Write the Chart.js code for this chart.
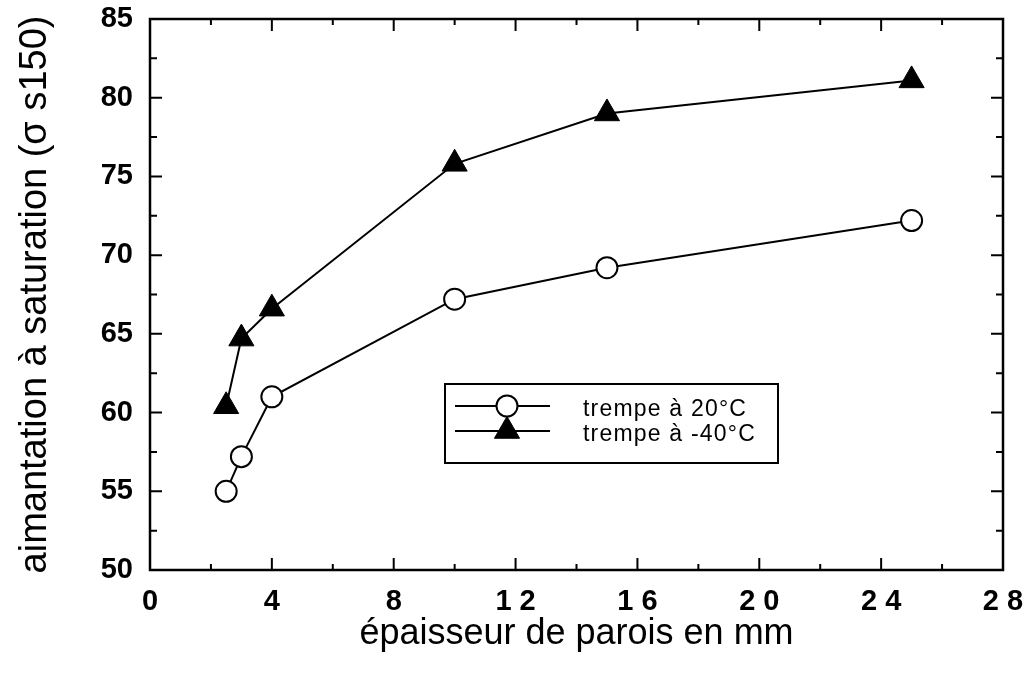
<!DOCTYPE html>
<html>
<head>
<meta charset="utf-8">
<script src="https://cdn.jsdelivr.net/npm/chart.js@4.4.1/dist/chart.umd.min.js"></script>
<style>
html,body{margin:0;padding:0;background:#fff;}
#wrap{width:1034px;height:676px;}
</style>
</head>
<body>
<div id="wrap"><canvas id="c" width="1034" height="676"></canvas></div>
<script>
// ---- data ----
const thickness = [2.5, 3, 4, 10, 15, 25];
const sat20 = [55.0, 57.2, 61.0, 67.2, 69.2, 72.2];
const satM40 = [60.4, 64.7, 66.6, 75.8, 79.0, 81.1];
const seriesLabels = ['trempe à 20°C', 'trempe à -40°C'];
const xTickLabels = {0:'0', 4:'4', 8:'8', 12:'1 2', 16:'1 6', 20:'2 0', 24:'2 4', 28:'2 8'};
const yTickLabels = {50:'50', 55:'55', 60:'60', 65:'65', 70:'70', 75:'75', 80:'80', 85:'85'};
const xTitle = 'épaisseur de parois en mm';
const yTitle = 'aimantation à saturation (σ s150)';

const FONT = "'Liberation Sans', Arial, Helvetica, sans-serif";

const framePlugin = {
  id: 'frameTicks',
  afterDatasetsDraw(chart) {
    const {ctx, chartArea: a, scales} = chart;
    ctx.save();
    ctx.strokeStyle = '#000';
    ctx.lineWidth = 2;
    ctx.beginPath();
    scales.x.ticks.forEach(t => {
      const px = scales.x.getPixelForValue(t.value);
      const len = (t.value % 4 === 0) ? 12 : 6;
      ctx.moveTo(px, a.bottom); ctx.lineTo(px, a.bottom - len);
      ctx.moveTo(px, a.top); ctx.lineTo(px, a.top + len);
    });
    scales.y.ticks.forEach(t => {
      const py = scales.y.getPixelForValue(t.value);
      const len = (t.value % 5 === 0) ? 12 : 7;
      ctx.moveTo(a.left, py); ctx.lineTo(a.left + len, py);
      ctx.moveTo(a.right, py); ctx.lineTo(a.right - len, py);
    });
    ctx.stroke();
    ctx.lineWidth = 2.5;
    ctx.strokeRect(a.left, a.top, a.right - a.left, a.bottom - a.top);
    ctx.restore();
  }
};

const legendPlugin = {
  id: 'boxLegend',
  afterDraw(chart) {
    const {ctx} = chart;
    const bx = 445, by = 384, bw = 333, bh = 79;
    ctx.save();
    ctx.fillStyle = '#fff';
    ctx.fillRect(bx, by, bw, bh);
    ctx.strokeStyle = '#000';
    ctx.lineWidth = 2;
    ctx.strokeRect(bx, by, bw, bh);
    const rows = [406, 431];
    chart.data.datasets.forEach((ds, i) => {
      const y = rows[i];
      ctx.lineWidth = 2;
      ctx.strokeStyle = '#000';
      ctx.beginPath(); ctx.moveTo(455, y); ctx.lineTo(550, y); ctx.stroke();
    });
    [1, 0].forEach(i => {
      const ds = chart.data.datasets[i];
      const y = rows[i];
      ctx.fillStyle = ds.pointBackgroundColor;
      ctx.strokeStyle = ds.pointBorderColor;
      ctx.lineWidth = ds.pointBorderWidth;
      if (Chart.helpers && Chart.helpers.drawPoint) {
        Chart.helpers.drawPoint(ctx, {pointStyle: ds.pointStyle, radius: ds.pointRadius, borderWidth: ds.pointBorderWidth, rotation: 0}, 507, y);
      }
    });
    ctx.fillStyle = '#000';
    ctx.font = "23px " + FONT;
    ctx.textBaseline = 'middle';
    ctx.textAlign = 'left';
    try { ctx.letterSpacing = '1.2px'; } catch(e) {}
    chart.data.datasets.forEach((ds, i) => {
      ctx.fillText(ds.label, 583, rows[i] + 4);
    });
    ctx.restore();
  }
};

new Chart(document.getElementById('c'), {
  type: 'line',
  data: {
    datasets: [
      {
        label: seriesLabels[0],
        data: thickness.map((x, i) => ({x, y: sat20[i]})),
        borderColor: '#000', borderWidth: 2,
        pointStyle: 'circle', pointRadius: 10.5,
        pointBackgroundColor: '#fff', pointBorderColor: '#000', pointBorderWidth: 2,
        tension: 0, fill: false, clip: false
      },
      {
        label: seriesLabels[1],
        data: thickness.map((x, i) => ({x, y: satM40[i]})),
        borderColor: '#000', borderWidth: 2,
        pointStyle: 'triangle', pointRadius: 14.5,
        pointBackgroundColor: '#000', pointBorderColor: '#000', pointBorderWidth: 1,
        tension: 0, fill: false, clip: false
      }
    ]
  },
  options: {
    responsive: false,
    animation: false,
    events: [],
    layout: {padding: {top: 19, right: 31, left: 0, bottom: 0}},
    plugins: {legend: {display: false}, tooltip: {enabled: false}, title: {display: false}},
    scales: {
      x: {
        type: 'linear', min: 0, max: 28,
        afterFit(s) { s.height = 106; s.paddingLeft = 0; s.paddingRight = 0; },
        grid: {display: false, drawTicks: false},
        border: {display: false},
        ticks: {
          stepSize: 2, autoSkip: false, maxRotation: 0, padding: 15,
          color: '#000', font: {family: FONT, size: 29, weight: 'bold'},
          callback: v => (xTickLabels[v] !== undefined ? xTickLabels[v] : '')
        },
        title: {display: true, text: xTitle, color: '#000', font: {family: FONT, size: 36}, padding: {top: 0, bottom: 20}}
      },
      y: {
        type: 'linear', min: 50, max: 85,
        afterFit(s) { s.width = 150; s.paddingTop = 0; s.paddingBottom = 0; },
        grid: {display: false, drawTicks: false},
        border: {display: false},
        ticks: {
          stepSize: 2.5, autoSkip: false, padding: 17,
          color: '#000', font: {family: FONT, size: 29, weight: 'bold'},
          callback: v => (yTickLabels[v] !== undefined ? yTickLabels[v] : '')
        },
        title: {display: true, text: yTitle, color: '#000', font: {family: FONT, size: 38}, padding: {top: 13, bottom: 0}}
      }
    }
  },
  plugins: [framePlugin, legendPlugin]
});
</script>
</body>
</html>
